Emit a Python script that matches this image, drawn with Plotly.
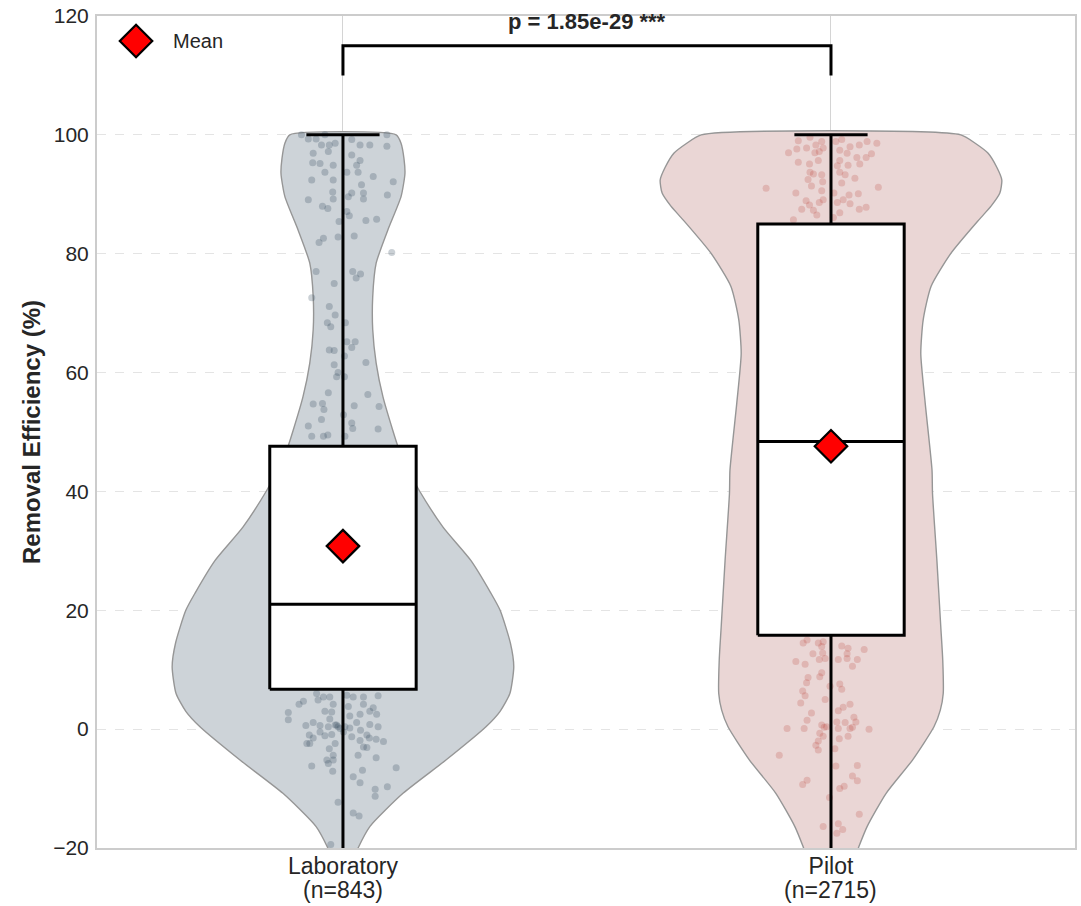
import plotly.graph_objects as go

# ---- groups and summary statistics -------------------------------------
groups = ["Laboratory", "Pilot"]
group_n = [843, 2715]
positions = [0, 1]

q1 = [6.7, 15.8]
median = [21.0, 48.4]
q3 = [47.6, 85.0]
mean = [30.8, 47.6]
upper_whisker = [100.0, 100.0]
lower_whisker = [-35.0, -35.0]

p_value_label = "p = 1.85e-29 ***"

# ---- kernel density profiles (value grid, scaled half-width) -----------
lab_kde_y = [-23, -20, -16.4, -10.8, -5.2, 0.4, 3, 6, 10.5, 14.5, 20, 22.9, 28.4,
             34, 40.2, 44, 47.5, 50.3, 55.9, 61.6, 67.2, 72.8, 78.4, 84, 89.6,
             93.5, 96, 98.6, 100]
lab_kde_w = [0.016, 0.031, 0.055, 0.123, 0.211, 0.293, 0.322, 0.342, 0.350, 0.343,
             0.322, 0.303, 0.262, 0.205, 0.156, 0.131, 0.113, 0.102, 0.082, 0.068,
             0.061, 0.061, 0.068, 0.092, 0.119, 0.127, 0.125, 0.119, 0.109]

pilot_kde_y = [-23, -19.8, -16.4, -10.8, -5.2, 0.4, 3.2, 6.0, 11.6, 17.2, 28.4,
               39.7, 43.6, 54.9, 63.2, 68.9, 74.5, 80.1, 85.7, 88, 90.2, 92.4,
               94.5, 96.9, 98.5, 100]
pilot_kde_w = [0.043, 0.057, 0.074, 0.113, 0.167, 0.211, 0.224, 0.230, 0.229,
               0.225, 0.217, 0.208, 0.207, 0.193, 0.184, 0.189, 0.205, 0.246,
               0.303, 0.328, 0.346, 0.350, 0.340, 0.322, 0.297, 0.266]

# ---- jittered observations (value, horizontal jitter) ------------------
lab_values = [
    100.0, 99.3, 99.3, 100.0, 98.3, 98.3, 98.6, 96.9, 97.2, 95.3, 95.2, 94.9, 93.7,
    92.4, 92.4, 90.4, 89.2, 89.1, 88.0, 87.6,
    99.2, 98.3, 98.3, 100.0, 98.1, 96.6, 95.7, 94.9, 93.7, 93.7, 93.0, 92.1, 91.6,
    90.2, 90.2, 89.6, 89.2, 89.9, 87.1, 86.4, 85.6, 85.8, 85.4,
    82.6, 81.9, 82.8, 83.0, 80.2, 77.0, 77.0, 76.6, 75.9, 75.0, 72.6, 71.1, 69.7,
    68.4, 67.7, 68.4, 65.2, 65.2, 64.2, 63.8, 63.7, 62.8, 61.7, 61.3, 60.0, 59.3,
    59.3, 56.6, 56.3, 54.7, 54.8, 53.8, 54.4, 54.3, 52.9, 52.1, 51.5, 51.0, 50.6,
    50.5, 49.3, 49.3, 49.5, 49.3,
    4.7, 4.2, 2.8, 1.6, 6.0, 4.9, 3.0, 5.4, 4.2, 2.9, 1.7, 1.1, 0.6, 0.6, 0.4, 0.7,
    0.4, -0.5, -1.0, -1.5, -1.1, -0.9, -2.4, -2.4, -3.3, -2.4, -4.4, -5.2, -5.8,
    -5.2, -6.2, -7.1,
    5.7, 5.4, 5.4, 5.6, 3.8, 4.2, 3.6, 3.0, 2.5, 2.5, 2.2, 1.1, 0.8, 0.4, 0.2, -0.2,
    -1.3, -1.0, -1.5, -1.7, -2.1, -1.9, -3.0, -3.1, -4.4, -4.8, -6.5, -6.9, -8.0,
    -9.0, -10.1, -9.7, -11.3, -12.3, -14.1, -14.6, -19.4, 0.7, 0.1, 0.4, -0.5, 5.4,
]
lab_jitter = [
    -0.085, -0.071, -0.055, -0.037, -0.044, -0.028, -0.016, -0.061, -0.030, -0.062,
    -0.047, -0.020, -0.037, -0.064, -0.020, -0.021, -0.020, -0.071, -0.042, -0.031,
    0.018, 0.035, 0.055, 0.090, 0.090, 0.018, 0.035, 0.028, 0.008, 0.031, 0.062,
    0.103, 0.038, 0.042, 0.018, 0.011, 0.042, 0.091, 0.008, 0.013, 0.047, 0.069,
    -0.008,
    -0.040, -0.049, -0.010, 0.023, 0.100, -0.055, 0.020, 0.036, 0.027, -0.018,
    -0.064, -0.028, -0.016, -0.032, -0.025, 0.005, 0.008, 0.025, 0.018, -0.028,
    -0.018, 0.003, 0.047, -0.018, -0.010, -0.013, 0.003, -0.030, 0.051, -0.061,
    -0.042, -0.039, 0.023, 0.074, 0.001, -0.044, 0.018, -0.071, 0.020, 0.072,
    -0.064, -0.040, -0.031, 0.004,
    -0.081, -0.090, -0.112, -0.112, -0.054, -0.051, -0.037, -0.027, -0.020, -0.023,
    -0.027, -0.061, -0.076, -0.047, -0.030, -0.016, -0.010, -0.047, -0.069, -0.061,
    -0.037, -0.023, -0.074, -0.068, -0.028, -0.016, -0.020, -0.033, -0.030, -0.020,
    -0.064, -0.021,
    0.008, 0.021, 0.042, 0.072, 0.011, 0.042, 0.062, 0.055, 0.035, 0.069, 0.014,
    0.028, 0.055, 0.072, 0.014, 0.036, 0.018, 0.049, 0.054, 0.068, 0.083, 0.035,
    0.042, 0.049, 0.031, 0.068, 0.109, 0.040, 0.021, 0.035, 0.066, 0.091, 0.066,
    -0.010, 0.021, 0.033, -0.025, -0.013, -0.006, 0.004, 0.001, -0.040,
]

pilot_values = [
    99.0, 99.6, 98.3, 98.9, 97.0, 97.6, 97.8, 97.0, 97.2, 97.8, 95.7, 95.4, 95.1,
    98.9, 99.2, 98.0, 98.3, 98.9, 98.6, 97.4, 96.9, 96.2, 96.2, 96.8, 95.7, 94.8,
    94.9, 95.1, 93.7, 93.3, 93.7, 93.4, 93.3, 92.1, 92.5, 91.4, 91.0, 90.2, 90.6,
    91.9, 92.7, 91.2, 90.2, 89.9, 90.1, 88.9, 88.2, 88.6, 89.1, 87.5, 87.3, 86.5,
    88.6, 89.1, 88.4, 87.5, 87.8, 86.9, 86.1, 85.7,
    14.5, 15.0, 14.5, 14.7, 13.9, 12.7, 12.8, 11.4, 10.9, 11.7, 11.9, 14.0, 13.6,
    12.7, 11.9, 11.7, 11.7, 13.4, 10.6, 9.5, 8.8, 8.7, 7.8, 7.2, 7.6, 6.7, 6.4,
    5.6, 4.4, 5.0, 4.2, 3.7, 3.1, 2.7, 1.5, 2.0, 1.2, 1.1, 1.2, 0.1, 0.1, 0.7, 0.3,
    0.4, 0.1, 0.1, 0.3, 0.0, -0.7, -1.2, -1.6, -1.2, -2.0, -2.7, -3.5, -3.3, -4.4,
    -6.2, -6.1, -7.9, -8.7, -8.6, -9.3, -10.0, -9.6, -11.5, -14.3, -16.4, -15.9,
    -16.9, -17.5,
]
pilot_jitter = [
    -0.067, -0.043, -0.031, -0.019, -0.087, -0.070, -0.050, -0.033, -0.024, -0.016,
    -0.026, -0.067, -0.044, 0.010, 0.022, 0.039, 0.058, 0.074, 0.094, 0.018, 0.033,
    0.053, 0.072, 0.083, 0.018, 0.013, 0.035, 0.059, 0.018, 0.029, -0.043, -0.036,
    -0.019, -0.017, -0.047, -0.040, -0.133, -0.072, -0.019, 0.022, 0.049, 0.097,
    0.006, 0.037, 0.056, -0.051, -0.044, -0.024, -0.016, -0.060, -0.036, -0.029,
    0.013, 0.025, 0.039, 0.058, 0.072, 0.018, 0.005, -0.077,
    -0.057, -0.049, -0.026, -0.016, -0.019, -0.037, -0.017, -0.072, -0.053, -0.024,
    -0.012, 0.022, 0.035, 0.033, 0.033, 0.015, 0.054, 0.068, 0.044, -0.019, -0.023,
    -0.047, -0.050, -0.002, 0.018, 0.022, -0.058, -0.053, -0.062, -0.012, 0.039,
    0.025, 0.015, -0.040, -0.049, 0.047, 0.051, 0.029, 0.012, -0.090, -0.055,
    -0.019, -0.014, -0.009, 0.015, 0.039, 0.044, 0.078, -0.023, -0.016, 0.017,
    0.035, -0.026, -0.031, -0.026, 0.008, -0.106, 0.010, 0.054, 0.044, 0.054,
    -0.049, -0.058, 0.018, 0.027, -0.003, 0.058, -0.016, 0.015, 0.024, 0.012,
]

# ---- styling ------------------------------------------------------------
FONT = "Liberation Sans, Arial, Helvetica, sans-serif"
TEXT = "#262626"
XTICK_SIZE = 23
violin_fill = ["rgb(205,211,216)", "rgb(234,214,213)"]
point_color = ["rgba(52,73,94,0.26)", "rgba(185,62,55,0.22)"]
BOX_HALF = 0.15
CAP_HALF = 0.075
MEAN_MARKER = dict(symbol="diamond", size=25, color="red",
                   line=dict(color="black", width=2.2))

fig = go.Figure()


def violin_outline(center, ys, ws):
    xs = [center + w for w in ws] + [center - w for w in reversed(ws)]
    yy = list(ys) + list(reversed(ys))
    return xs + [xs[0]], yy + [yy[0]]


profiles = [(lab_kde_y, lab_kde_w), (pilot_kde_y, pilot_kde_w)]
for i, (ky, kw) in enumerate(profiles):
    vx, vy = violin_outline(positions[i], ky, kw)
    fig.add_trace(go.Scatter(
        x=vx, y=vy, mode="lines", fill="toself",
        fillcolor=violin_fill[i],
        line=dict(color="rgb(150,150,150)", width=1.4, shape="spline", smoothing=0.6),
        hoverinfo="skip", showlegend=False,
    ))

# jittered raw observations
obs = [(lab_values, lab_jitter), (pilot_values, pilot_jitter)]
for i, (vals, jit) in enumerate(obs):
    fig.add_trace(go.Scatter(
        x=[positions[i] + j for j in jit], y=vals, mode="markers",
        marker=dict(size=7, color=point_color[i], line=dict(width=0)),
        hoverinfo="skip", showlegend=False,
    ))

# box plots (drawn as scatter paths so they sit above the jittered points)
for i in range(len(groups)):
    c = positions[i]
    # whiskers and caps
    fig.add_trace(go.Scatter(
        x=[c, c, None, c, c, None, c - CAP_HALF, c + CAP_HALF, None,
           c - CAP_HALF, c + CAP_HALF],
        y=[q3[i], upper_whisker[i], None, q1[i], lower_whisker[i], None,
           upper_whisker[i], upper_whisker[i], None,
           lower_whisker[i], lower_whisker[i]],
        mode="lines", line=dict(color="black", width=3),
        hoverinfo="skip", showlegend=False,
    ))
    # interquartile box
    fig.add_trace(go.Scatter(
        x=[c - BOX_HALF, c + BOX_HALF, c + BOX_HALF, c - BOX_HALF, c - BOX_HALF],
        y=[q1[i], q1[i], q3[i], q3[i], q1[i]],
        mode="lines", fill="toself", fillcolor="white",
        line=dict(color="black", width=3),
        hoverinfo="skip", showlegend=False,
    ))
    # median
    fig.add_trace(go.Scatter(
        x=[c - BOX_HALF, c + BOX_HALF], y=[median[i], median[i]],
        mode="lines", line=dict(color="black", width=3),
        hoverinfo="skip", showlegend=False,
    ))

# group means
fig.add_trace(go.Scatter(
    x=positions, y=mean, mode="markers", marker=MEAN_MARKER,
    showlegend=False, hoverinfo="skip",
))

# significance bracket
bracket_y = 115
bracket_drop = 5
fig.add_trace(go.Scatter(
    x=[positions[0], positions[0], positions[1], positions[1]],
    y=[bracket_y - bracket_drop, bracket_y, bracket_y, bracket_y - bracket_drop],
    mode="lines", line=dict(color="black", width=3),
    hoverinfo="skip", showlegend=False,
))
fig.add_annotation(
    x=(positions[0] + positions[1]) / 2, y=119.0, text=p_value_label,
    showarrow=False, xanchor="center", yanchor="middle",
    font=dict(family=FONT, size=22, color=TEXT, weight="bold"),
)

# legend key for the mean marker
fig.add_trace(go.Scatter(
    x=[-0.424], y=[115.8], mode="markers", marker=MEAN_MARKER,
    showlegend=False, hoverinfo="skip", cliponaxis=False,
))
fig.add_annotation(
    x=-0.352, y=115.8, text="Mean", showarrow=False,
    xanchor="left", yanchor="middle",
    font=dict(family=FONT, size=20, color=TEXT),
)

# sample sizes as a second tick-label line (tighter line spacing than <br>)
for pos, n in zip(positions, group_n):
    fig.add_annotation(
        x=pos, xref="x", y=0, yref="paper", text=f"(n={n})",
        showarrow=False, xanchor="center", yanchor="top", yshift=-27,
        font=dict(family=FONT, size=XTICK_SIZE, color=TEXT),
    )

fig.update_layout(
    width=1081, height=906,
    margin=dict(l=97, r=6, t=16, b=58),
    paper_bgcolor="white", plot_bgcolor="white",
    font=dict(family=FONT, color=TEXT),
    showlegend=False,
    xaxis=dict(
        range=[-0.504, 1.5], tickmode="array", tickvals=positions, ticktext=groups,
        tickfont=dict(size=XTICK_SIZE, color=TEXT), showgrid=True, automargin=False,
        gridcolor="rgb(212,212,212)", gridwidth=1, ticklabelstandoff=-4,
        showline=True, linecolor="rgb(204,204,204)", linewidth=2, mirror=True,
        zeroline=False, ticks="",
    ),
    yaxis=dict(
        range=[-20, 120], tickmode="array", tickvals=list(range(-20, 121, 20)),
        tickfont=dict(size=21, color=TEXT), showgrid=True, automargin=False,
        gridcolor="rgb(228,228,228)", gridwidth=1, griddash="dash",
        showline=True, linecolor="rgb(204,204,204)", linewidth=2, mirror=True,
        zeroline=False, ticks="", ticklabelstandoff=2,
        title=dict(text="Removal Efficiency (%)",
                   font=dict(size=24, color=TEXT, weight="bold"), standoff=6),
    ),
)

fig.write_html("out.html")
